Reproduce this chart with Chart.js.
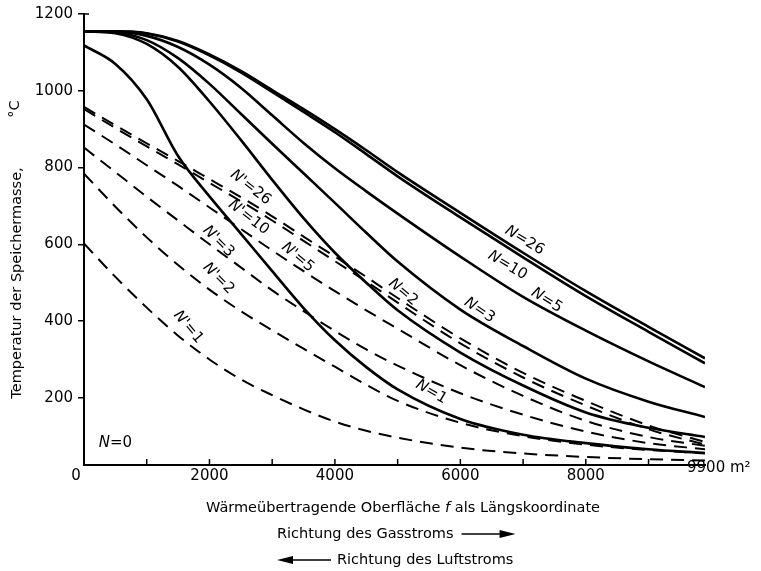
<!DOCTYPE html>
<html><head><meta charset="utf-8">
<script src="https://cdn.jsdelivr.net/npm/chart.js@4.4.0/dist/chart.umd.min.js"></script>
<style>html,body{margin:0;padding:0;background:#fff}canvas{display:block}</style>
</head><body>
<canvas id="c" width="761" height="571"></canvas>
<script>
// ---- data ----
const surfaceArea = [0,500,1000,1500,2000,2500,3000,3500,4000,4500,5000,6000,7000,8000,9000,9900];
const solidN26 = [1155,1155,1150,1130,1095,1052,1002,952,900,845,788,682,578,478,385,303];
const solidN10 = [1155,1155,1149,1128,1092,1048,997,945,892,835,777,670,566,465,372,290];
const solidN5  = [1155,1154,1143,1114,1068,1008,936,864,798,738,680,568,463,375,295,228];
const solidN3  = [1155,1152,1132,1085,1018,940,862,785,708,630,555,430,335,250,190,150];
const solidN2  = [1155,1150,1122,1062,972,872,768,668,578,500,428,318,232,162,122,98];
const solidN1  = [1118,1070,978,830,725,628,530,434,350,280,222,145,104,82,66,56];
const dashN26 = [958,910,863,817,770,723,673,620,568,515,460,355,265,192,128,85];
const dashN10 = [952,903,855,808,760,712,662,609,556,503,448,342,253,180,118,78];
const dashN5  = [912,860,806,752,696,640,584,530,478,428,380,285,205,140,98,75];
const dashN3  = [852,788,724,662,600,540,480,426,374,326,284,212,156,112,82,66];
const dashN2  = [784,698,618,546,482,426,376,328,281,234,192,135,100,78,64,56];
const dashN1  = [602,515,435,362,300,248,207,170,138,114,96,70,55,46,40,37];

const xTickValues = [0,2000,4000,6000,8000,9900];
const xTickLabels = ['0','2000','4000','6000','8000','9900 m\u00B2'];
const xMinorTicks = [1000,2000,3000,4000,5000,6000,7000,8000,9000];
const yTickValues = [200,400,600,800,1000,1200];

const curveLabelTexts = ['N=26','N=10','N=5','N=3','N=2','N=1',"N'=26","N'=10","N'=5","N'=3","N'=2","N'=1",'N=0'];
const curveLabelX = [7024,6752,7376,6304,5088,5536,2656,2624,3408,2144,2144,1664,500];
const curveLabelY = [610,545,454,428,475,215,748,670,566,607,511,384,82];

// ---- build datasets ----
const mk = arr => surfaceArea.map((x,i)=>({x, y:arr[i]}));
const solid = d => ({data:mk(d), borderColor:'#000', borderWidth:2.6, fill:false});
const dashed = d => ({data:mk(d), borderColor:'#000', borderWidth:2.0, borderDash:[13,8], fill:false});
const datasets = [
  solid(solidN26), solid(solidN10), solid(solidN5), solid(solidN3), solid(solidN2), solid(solidN1),
  dashed(dashN26), dashed(dashN10), dashed(dashN5), dashed(dashN3), dashed(dashN2), dashed(dashN1)
];

const FONT = '"DejaVu Sans", sans-serif';
const labelAngles = [31,31,32,34,40,30,38,38,40,45,45,50,0];

function drawParts(ctx, parts, x, y, size, align){
  let total = 0;
  parts.forEach(p=>{ ctx.font=(p.it?'italic ':'')+size+'px '+FONT; p.w=ctx.measureText(p.t).width; total+=p.w; });
  let cx = align==='center' ? x-total/2 : (align==='right' ? x-total : x);
  parts.forEach(p=>{ ctx.font=(p.it?'italic ':'')+size+'px '+FONT; ctx.fillText(p.t, cx, y); cx+=p.w; });
  return total;
}

const deco = {
  id:'deco',
  afterDraw(chart){
    const {ctx, chartArea:ca} = chart;
    const xs = chart.scales.x, ys = chart.scales.y;
    ctx.save();
    ctx.fillStyle='#000'; ctx.strokeStyle='#000';
    // inward x ticks
    ctx.lineWidth=1.5;
    xMinorTicks.forEach(v=>{
      const px = xs.getPixelForValue(v);
      ctx.beginPath(); ctx.moveTo(px, ca.bottom); ctx.lineTo(px, ca.bottom-6); ctx.stroke();
    });
    // small tick at top of y axis
    ctx.beginPath(); ctx.moveTo(ca.left, ys.getPixelForValue(1200)); ctx.lineTo(ca.left+5, ys.getPixelForValue(1200)); ctx.stroke();
    // x tick labels
    ctx.textBaseline='middle';
    xTickValues.forEach((v,i)=>{
      const px = xs.getPixelForValue(v);
      ctx.font='15px '+FONT;
      if(i===0){ ctx.textAlign='center'; ctx.fillText(xTickLabels[i], px-8, ca.bottom+11); }
      else if(i===xTickValues.length-1){ ctx.textAlign='left'; ctx.fillText(xTickLabels[i], px-18, ca.bottom+3); }
      else { ctx.textAlign='center'; ctx.fillText(xTickLabels[i], px, ca.bottom+11); }
    });
    // curve labels
    ctx.textAlign='left'; ctx.textBaseline='middle';
    curveLabelTexts.forEach((t,i)=>{
      const px = xs.getPixelForValue(curveLabelX[i]);
      const py = ys.getPixelForValue(curveLabelY[i]);
      ctx.save(); ctx.translate(px,py); ctx.rotate(labelAngles[i]*Math.PI/180);
      drawParts(ctx, [{t:t[0], it:true},{t:t.slice(1)}], 0, 0, 15, 'center');
      ctx.restore();
    });
    // y axis title
    ctx.save(); ctx.translate(17, 283); ctx.rotate(-Math.PI/2);
    ctx.textAlign='center'; ctx.textBaseline='middle'; ctx.font='14.5px '+FONT;
    ctx.fillText('Temperatur der Speichermasse,', 0, 0);
    ctx.restore();
    ctx.save(); ctx.translate(15, 109); ctx.rotate(-Math.PI/2);
    ctx.textAlign='center'; ctx.textBaseline='middle'; ctx.font='14.5px '+FONT;
    ctx.fillText('\u00B0C', 0, 0);
    ctx.restore();
    // x axis title lines
    ctx.textAlign='left'; ctx.textBaseline='middle';
    drawParts(ctx, [{t:'W\u00E4rme\u00FCbertragende Oberfl\u00E4che '},{t:'f',it:true},{t:' als L\u00E4ngskoordinate'}], 403, 508, 14.5, 'center');
    const w1 = drawParts(ctx, [{t:'Richtung des Gasstroms'}], 277, 534, 14.5, 'left');
    // right arrow
    let ax = 277 + w1 + 8;
    ctx.lineWidth=1.3; ctx.beginPath(); ctx.moveTo(ax, 534); ctx.lineTo(ax+40, 534); ctx.stroke();
    ctx.beginPath(); ctx.moveTo(ax+54,534); ctx.lineTo(ax+38,530); ctx.lineTo(ax+38,538); ctx.closePath(); ctx.fill();
    // left arrow
    ctx.beginPath(); ctx.moveTo(277,560); ctx.lineTo(293,556); ctx.lineTo(293,564); ctx.closePath(); ctx.fill();
    ctx.beginPath(); ctx.moveTo(290,560); ctx.lineTo(331,560); ctx.stroke();
    drawParts(ctx, [{t:'Richtung des Luftstroms'}], 337, 560, 14.5, 'left');
    ctx.restore();
  }
};

new Chart(document.getElementById('c'), {
  type:'line',
  data:{datasets},
  options:{
    responsive:false, animation:false, devicePixelRatio:1,
    layout:{padding:{left:0,right:56,top:13,bottom:0}},
    plugins:{legend:{display:false}, tooltip:{enabled:false}},
    elements:{point:{radius:0}, line:{cubicInterpolationMode:'monotone'}},
    scales:{
      x:{type:'linear', min:0, max:9900,
         grid:{display:false, drawTicks:false},
         border:{display:true, color:'#000', width:2},
         ticks:{display:false},
         afterFit(s){ s.height = 106; }},
      y:{type:'linear', min:25, max:1200,
         afterBuildTicks(s){ s.ticks = yTickValues.map(v=>({value:v})); },
         grid:{display:true, drawOnChartArea:false, drawTicks:true, tickLength:6, color:'#000', lineWidth:1.5},
         border:{display:true, color:'#000', width:2},
         ticks:{color:'#000', font:{family:'DejaVu Sans', size:15}, padding:5, callback:v=>String(v)},
         afterFit(s){ s.width = 84; }}
    }
  },
  plugins:[deco]
});
</script>
</body></html>
